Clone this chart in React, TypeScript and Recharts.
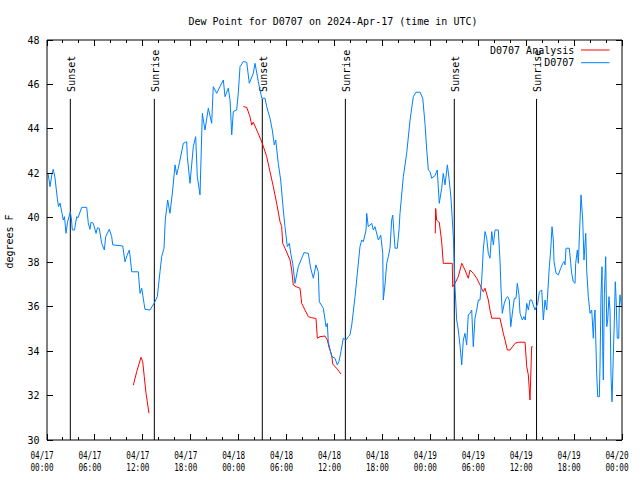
import React from 'react';
import { LineChart, Line, XAxis, YAxis, ReferenceLine, Legend } from 'recharts';

const FONT = '"DejaVu Sans Mono", monospace';
const BLUE = '#0080ff';
const RED = '#ff0000';

const CHART_W = 640;
const CHART_H = 480;
const MARGIN = { top: 40, right: 18, bottom: 0, left: 0 };
const Y_AXIS_W = 47;
const X_AXIS_H = 40;
const PLOT_W = CHART_W - MARGIN.left - MARGIN.right - Y_AXIS_W;
const PLOT_H = CHART_H - MARGIN.top - MARGIN.bottom - X_AXIS_H;

// hours since 2024-04-17 00:00 UTC, dew point in degrees F
const obsD0707: [number, number][] = [
  [0.13, 42.0], [0.38, 41.4], [0.63, 42.0], [0.79, 42.18], [1.0, 41.8], [1.29, 40.87], [1.44, 40.5], [1.63, 40.66],
  [1.88, 40.2], [2.04, 39.9], [2.19, 40.05], [2.38, 39.3], [2.57, 39.8], [2.92, 40.27], [3.07, 39.9], [3.17, 39.45],
  [3.44, 39.45], [3.72, 40.05], [3.88, 40.0], [4.35, 40.47], [4.97, 40.47], [5.17, 39.76], [5.38, 39.48], [5.51, 39.8],
  [5.8, 39.75], [6.14, 39.3], [6.32, 39.55], [6.55, 39.52], [6.85, 38.85], [7.18, 38.55], [7.35, 39.15], [7.8, 39.48],
  [8.1, 39.15], [8.23, 38.78], [9.48, 38.73], [9.77, 38.02], [10.02, 38.3], [10.31, 38.55], [10.61, 37.57], [11.43, 37.57],
  [11.65, 36.6], [11.86, 36.83], [12.15, 36.15], [12.27, 35.88], [12.9, 35.85], [13.15, 36.0], [13.52, 36.22], [13.81, 36.45],
  [14.15, 37.57], [14.36, 38.25], [14.65, 38.63], [14.81, 39.9], [15.11, 40.8], [15.4, 40.2], [15.74, 41.25], [16.03, 42.38],
  [16.24, 41.93], [16.57, 42.45], [17.07, 43.35], [17.49, 43.42], [17.57, 42.75], [17.91, 41.55], [18.32, 43.2], [18.62, 43.65],
  [18.82, 41.85], [19.16, 41.03], [19.45, 44.7], [19.78, 43.95], [20.2, 44.93], [20.62, 44.25], [20.82, 45.9], [21.25, 45.6],
  [21.66, 45.9], [22.08, 46.2], [22.29, 45.45], [22.7, 45.83], [22.92, 45.3], [23.13, 43.73], [23.33, 44.78], [23.75, 44.85],
  [23.95, 45.6], [24.17, 46.8], [24.58, 47.03], [25.01, 47.0], [25.33, 46.05], [25.83, 46.5], [26.05, 46.95], [26.46, 46.12],
  [26.89, 45.38], [27.3, 45.38], [27.51, 45.0], [27.92, 44.48], [28.21, 43.95], [28.46, 43.28], [28.64, 43.5], [28.96, 42.45],
  [29.26, 41.7], [29.59, 40.35], [29.8, 39.6], [30.09, 38.7], [30.34, 38.85], [30.52, 38.4], [30.77, 37.95], [31.05, 37.05],
  [31.47, 37.8], [31.89, 38.18], [32.18, 38.43], [32.72, 38.4], [33.02, 37.73], [33.35, 37.28], [33.68, 37.88], [33.97, 37.57],
  [34.1, 36.22], [34.6, 35.93], [34.94, 35.1], [35.1, 35.25], [35.22, 34.42], [35.65, 33.75], [36.06, 33.68], [36.35, 33.38],
  [36.56, 33.53], [36.81, 33.98], [37.1, 34.58], [37.44, 34.5], [37.73, 34.65], [37.94, 34.73], [38.16, 35.18], [38.57, 36.45],
  [38.86, 37.5], [39.19, 38.7], [39.41, 39.0], [39.61, 38.92], [39.95, 39.45], [40.03, 40.2], [40.23, 39.6], [40.66, 39.75],
  [40.86, 39.45], [41.07, 39.6], [41.49, 39.0], [41.79, 39.22], [42.04, 38.4], [42.11, 36.3], [42.32, 36.98], [42.54, 37.95],
  [42.74, 38.25], [42.95, 38.63], [43.16, 39.9], [43.29, 40.12], [43.58, 38.63], [43.86, 38.63], [44.08, 39.45], [44.2, 40.2],
  [44.62, 41.85], [45.04, 42.9], [45.46, 44.4], [45.87, 45.45], [46.21, 45.65], [46.71, 45.65], [47.05, 45.38], [47.33, 44.25],
  [47.55, 43.05], [47.75, 42.15], [47.96, 42.08], [48.17, 41.78], [48.59, 41.9], [48.87, 42.15], [49.12, 40.65], [49.42, 41.33],
  [49.62, 42.0], [49.84, 41.48], [50.13, 42.38], [50.34, 41.78], [50.55, 41.03], [50.68, 40.35], [50.88, 39.15], [51.09, 36.9],
  [51.3, 35.4], [51.5, 34.95], [51.71, 34.28], [51.93, 33.38], [52.13, 34.5], [52.34, 34.8], [52.55, 34.28], [52.75, 35.63],
  [52.97, 35.7], [53.18, 35.85], [53.38, 34.2], [53.59, 35.48], [53.81, 35.85], [54.01, 36.3], [54.22, 36.3], [54.43, 37.2],
  [54.63, 38.55], [54.85, 39.38], [55.06, 39.08], [55.26, 38.4], [55.47, 38.18], [55.69, 39.38], [55.89, 38.78], [56.1, 39.45],
  [56.51, 39.45], [56.72, 38.1], [56.85, 36.83], [57.01, 35.7], [57.26, 36.15], [57.48, 36.38], [57.69, 36.45], [57.89, 36.3],
  [58.07, 35.1], [58.32, 35.85], [58.52, 36.38], [58.73, 36.38], [58.89, 37.05], [59.1, 36.53], [59.23, 35.7], [59.52, 35.4],
  [59.73, 35.55], [59.89, 35.4], [60.07, 36.15], [60.27, 35.85], [60.48, 36.3], [60.69, 36.3], [60.89, 36.08], [61.11, 35.85],
  [61.45, 36.15], [61.65, 36.67], [61.95, 36.75], [62.15, 35.4], [62.36, 36.3], [62.57, 35.85], [62.9, 37.8], [63.07, 38.55],
  [63.24, 39.6], [63.4, 39.0], [63.49, 38.02], [63.74, 37.5], [64.03, 37.43], [64.33, 37.73], [64.58, 37.95], [64.74, 38.03],
  [64.87, 37.88], [64.99, 38.63], [65.4, 38.63], [65.58, 37.95], [65.7, 37.5], [65.9, 37.12], [66.12, 37.05], [66.2, 37.95],
  [66.41, 38.55], [66.53, 37.95], [66.87, 41.03], [67.08, 39.9], [67.24, 38.1], [67.46, 39.3], [67.58, 37.65], [67.78, 36.45],
  [68.0, 35.7], [68.21, 35.85], [68.41, 34.58], [68.5, 35.4], [68.62, 35.85], [68.83, 33.0], [68.96, 31.95], [69.16, 31.95],
  [69.25, 33.38], [69.37, 36.53], [69.5, 37.8], [69.59, 33.98], [69.66, 32.7], [69.79, 36.6], [69.96, 38.25], [70.09, 35.1],
  [70.21, 35.4], [70.37, 36.45], [70.5, 35.85], [70.63, 32.85], [70.75, 31.72], [70.91, 33.75], [71.04, 35.4], [71.16, 37.12],
  [71.25, 36.45], [71.41, 34.58], [71.59, 34.58], [71.66, 35.98], [71.75, 36.53], [71.94, 36.0],
];

const analysisSeg1: [number, number][] = [
  [10.81, 32.47], [11.23, 33.07], [11.77, 33.72], [11.98, 33.53], [12.18, 32.85], [12.4, 32.1], [12.56, 31.72], [12.77, 31.2],
];

const analysisSeg2: [number, number][] = [
  [24.58, 45.0], [25.01, 44.97], [25.42, 44.55], [25.63, 44.17], [25.83, 44.3], [26.26, 43.95], [26.58, 43.68], [26.96, 43.35],
  [27.51, 42.75], [27.92, 42.08], [28.34, 41.4], [28.76, 40.65], [29.18, 39.82], [29.39, 39.6], [29.51, 38.85], [29.8, 38.63],
  [30.43, 38.1], [30.64, 37.65], [30.84, 36.98], [31.18, 36.9], [31.68, 36.83], [31.89, 36.15], [32.31, 35.85], [32.72, 35.55],
  [33.15, 35.5], [33.68, 35.47], [33.85, 34.58], [34.19, 34.65], [34.81, 34.68], [35.1, 34.5], [35.35, 34.12], [35.65, 33.83],
  [35.78, 33.42], [36.28, 33.22], [36.81, 32.97],
];

const analysisSeg3: [number, number][] = [
  [48.62, 39.3], [48.67, 40.42], [48.79, 39.9], [49.0, 39.82], [49.12, 39.8], [49.42, 38.92], [49.62, 37.95], [50.75, 37.95],
  [50.8, 36.9], [51.09, 37.05], [51.5, 37.35], [51.93, 37.95], [52.34, 37.65], [52.75, 37.28], [52.97, 37.65], [53.38, 37.5],
  [53.81, 37.28], [54.22, 36.98], [54.63, 36.67], [54.85, 36.83], [55.26, 36.3], [55.47, 35.85], [55.69, 35.48], [56.72, 35.48],
  [57.14, 34.8], [57.35, 34.5], [57.64, 34.05], [57.98, 34.05], [58.61, 34.35], [59.02, 34.4], [59.86, 34.4], [60.07, 33.3],
  [60.27, 32.93], [60.48, 31.8], [60.69, 34.2], [60.82, 34.2],
];

const sunTimes = [2.92, 13.44, 26.96, 37.36, 51.0, 61.3];
const sunLabels = ['Sunset', 'Sunrise', 'Sunset', 'Sunrise', 'Sunset', 'Sunrise'];
const sunLineTop = 45.35;

const hourTicks = [0, 2, 4, 6, 8, 10, 12, 14, 16, 18, 20, 22, 24, 26, 28, 30, 32, 34, 36, 38, 40, 42, 44, 46, 48, 50, 52, 54, 56, 58, 60, 62, 64, 66, 68, 70, 72];
const tickDates = ['04/17', '04/17', '04/17', '04/17', '04/18', '04/18', '04/18', '04/18', '04/19', '04/19', '04/19', '04/19', '04/20'];
const tickTimes = ['00:00', '06:00', '12:00', '18:00', '00:00', '06:00', '12:00', '18:00', '00:00', '06:00', '12:00', '18:00', '00:00'];
const yTicks = [30, 32, 34, 36, 38, 40, 42, 44, 46, 48];
const legendOrder = ['D0707 Analysis', 'D0707'];

const toRows = (pts: [number, number][]) => pts.map(([t, v]) => ({ t, v }));
const obsData = toRows(obsD0707);
const analysisData = [
  ...toRows(analysisSeg1),
  { t: 18, v: null },
  ...toRows(analysisSeg2),
  { t: 42, v: null },
  ...toRows(analysisSeg3),
];

const isMajor = (h: number) => h % 6 === 0;

// bottom ticks, mirrored on the top border (gnuplot style, pointing inward)
const BottomTick = ({ x, y, payload }: any) => {
  const h = payload.value;
  const len = isMajor(h) ? 6 : 3;
  const i = h / 6;
  return (
    <g>
      <line x1={x} x2={x} y1={y} y2={y - len} stroke="#000" shapeRendering="crispEdges" />
      <line x1={x} x2={x} y1={y - PLOT_H} y2={y - PLOT_H + len} stroke="#000" shapeRendering="crispEdges" />
      {isMajor(h) && (
        <>
          <text x={x - 5} y={y + 19} textAnchor="middle" fontFamily={FONT} fontSize={10} fill="#000"
            textLength={23} lengthAdjust="spacingAndGlyphs">{tickDates[i]}</text>
          <text x={x - 5} y={y + 30.5} textAnchor="middle" fontFamily={FONT} fontSize={10} fill="#000"
            textLength={23} lengthAdjust="spacingAndGlyphs">{tickTimes[i]}</text>
        </>
      )}
    </g>
  );
};

const LeftTick = ({ x, y, payload }: any) => (
  <g>
    <line x1={x} x2={x + 6} y1={y} y2={y} stroke="#000" shapeRendering="crispEdges" />
    <line x1={x + PLOT_W} x2={x + PLOT_W - 6} y1={y} y2={y} stroke="#000" shapeRendering="crispEdges" />
    <text x={x - 7.5} y={y + 3.6} textAnchor="end" fontFamily={FONT} fontSize={10} fill="#000">{payload.value}</text>
  </g>
);

const sunShape = (label: string) => (p: any) => {
  const top = Math.min(p.y1, p.y2);
  const bottom = Math.max(p.y1, p.y2);
  return (
    <g>
      <line x1={p.x1} x2={p.x1} y1={top} y2={bottom} stroke="#000" strokeWidth={1} />
      <text transform={`translate(${p.x1 + 4.5},${top - 7}) rotate(-90)`} fontFamily={FONT} fontSize={10} fill="#000">
        {label}
      </text>
    </g>
  );
};

const YLabel = ({ viewBox }: any) => {
  const cy = viewBox.y + viewBox.height / 2 + 1.5;
  return (
    <text transform={`translate(13,${cy}) rotate(-90)`} textAnchor="middle" fontFamily={FONT} fontSize={10} fill="#000">
      degrees F
    </text>
  );
};

const KeyBox = ({ payload }: any) => {
  const items = legendOrder
    .map((name) => (payload || []).find((p: any) => p.value === name))
    .filter(Boolean);
  return (
    <svg width={140} height={30}>
      {items.map((item: any, i: number) => (
        <g key={item.value}>
          <text x={94.3} y={13.6 + i * 12.7} textAnchor="end" fontFamily={FONT} fontSize={10} fill="#000">{item.value}</text>
          <line x1={101} x2={129.5} y1={10 + i * 12.7} y2={10 + i * 12.7} stroke={item.color} strokeWidth={1} />
        </g>
      ))}
    </svg>
  );
};

export default function App() {
  return (
    <div style={{ position: 'absolute', left: 0, top: 0, width: CHART_W, height: CHART_H, background: '#fff' }}>
      <svg width={CHART_W} height={30} style={{ position: 'absolute', left: 0, top: 0 }}>
        <text x={333} y={24.5} textAnchor="middle" fontFamily={FONT} fontSize={10} fill="#000">
          Dew Point for D0707 on 2024-Apr-17 (time in UTC)
        </text>
      </svg>
      <LineChart width={CHART_W} height={CHART_H} margin={MARGIN}>
        <XAxis dataKey="t" type="number" domain={[0, 72]} ticks={hourTicks} interval={0} height={X_AXIS_H}
          tickSize={0} tickMargin={0} tickLine={false} tick={BottomTick}
          axisLine={{ stroke: '#000' }} allowDataOverflow />
        <YAxis type="number" domain={[30, 48]} ticks={yTicks} interval={0} width={Y_AXIS_W}
          tickSize={0} tickMargin={0} tickLine={false} tick={LeftTick}
          axisLine={{ stroke: '#000' }} allowDataOverflow label={YLabel} />
        <ReferenceLine y={48} stroke="#000" ifOverflow="extendDomain" />
        <ReferenceLine x={72} stroke="#000" ifOverflow="extendDomain" />
        {sunTimes.map((t, i) => (
          <ReferenceLine key={`sun-${i}`} segment={[{ x: t, y: 30 }, { x: t, y: sunLineTop }]}
            shape={sunShape(sunLabels[i])} />
        ))}
        <Line data={analysisData} dataKey="v" name="D0707 Analysis" stroke={RED} strokeWidth={1}
          dot={false} activeDot={false} isAnimationActive={false} type="linear" />
        <Line data={obsData} dataKey="v" name="D0707" stroke={BLUE} strokeWidth={1}
          dot={false} activeDot={false} isAnimationActive={false} type="linear" />
        <Legend layout="vertical" align="center" verticalAlign="middle" content={KeyBox}
          wrapperStyle={{ position: 'absolute', left: 480, top: 40, width: 140, height: 30 }} />
      </LineChart>
    </div>
  );
}
